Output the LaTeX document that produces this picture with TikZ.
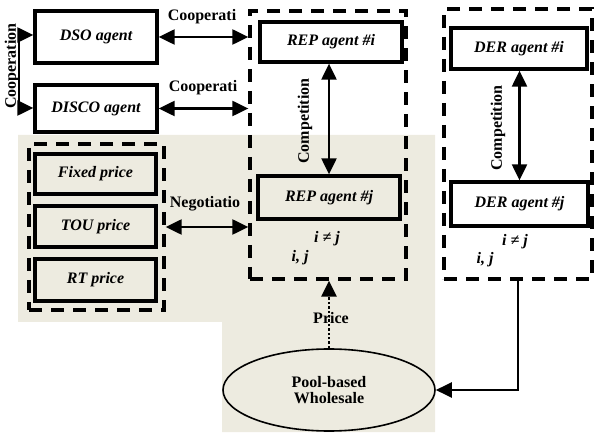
\documentclass[tikz,border=0pt]{standalone}
\usepackage{fontspec}
\setmainfont{Liberation Serif}
\usetikzlibrary{arrows.meta,shapes.geometric}
\definecolor{beige}{RGB}{237,235,224}
\begin{document}
\begin{tikzpicture}[x=1pt,y=-1pt,
  agent/.style={draw, line width=3.3pt, inner sep=0pt,
    font=\fontsize{16}{17}\selectfont\bfseries\itshape},
  cont/.style={draw, line width=3.3pt, dash pattern=on 13pt off 9pt, inner sep=0pt},
  lab/.style={font=\fontsize{16}{17}\selectfont\bfseries, inner sep=0pt},
  ilab/.style={font=\fontsize{16}{17}\selectfont\bfseries\itshape, inner sep=0pt},
  conn/.style={line width=2.2pt, {Triangle[length=16pt,width=15pt]}-{Triangle[length=16pt,width=15pt]}},
  oneway/.style={line width=2.2pt, -{Triangle[length=16pt,width=15pt]}}
]
\useasboundingbox (0,0) rectangle (594,435);
% background
\fill[beige] (18,135) -- (435,135) -- (435,432) -- (222,432) -- (222,322) -- (18,322) -- cycle;

% containers
\node[cont, minimum width=156pt, minimum height=268pt] (repc) at (328,145) {};
\node[cont, minimum width=148pt, minimum height=270pt] (derc) at (518,144) {};
\node[cont, minimum width=135pt, minimum height=166pt] (pc) at (96.5,227) {};

% agent boxes
\node[agent, minimum width=122pt, minimum height=52pt] (dso) at (96,37) {DSO agent};
\node[agent, minimum width=122pt, minimum height=47pt] (disco) at (96,108.5) {DISCO agent};
\node[agent, minimum width=142pt, minimum height=40pt] (repi) at (331,42) {REP agent \#i};
\node[agent, minimum width=142pt, minimum height=43pt] (repj) at (329,197.5) {REP agent \#j};
\node[agent, minimum width=136pt, minimum height=41pt] (deri) at (519,48.5) {DER agent \#i};
\node[agent, minimum width=137pt, minimum height=44pt] (derj) at (519.5,204) {DER agent \#j};
\node[agent, minimum width=121pt, minimum height=40pt] (fixed) at (95.5,174) {Fixed price};
\node[agent, minimum width=121pt, minimum height=41pt] (tou) at (95.5,226.5) {TOU price};
\node[agent, minimum width=121pt, minimum height=42pt] (rt) at (95.5,280) {RT price};

% ellipse
\node[ellipse, draw, line width=1.6pt, minimum width=212pt, minimum height=82pt, inner sep=0pt,
  align=center, font=\fontsize{16}{16}\selectfont\bfseries] (pool) at (329,390) {Pool-based\\Wholesale};

% connectors
\draw[conn] (dso.east) -- (dso.east -| repc.west);
\draw[conn] (disco.east) -- (disco.east -| repc.west);
\draw[conn] (pc.east) -- (pc.east -| repc.west);
\draw[conn] (repj.north) -- (repj.north |- repi.south);
\draw[conn] (derj.north) -- (derj.north |- deri.south);
\coordinate (cl1) at (19,35);
\coordinate (cl2) at (19,108);
\draw[conn] (dso.west |- cl1) -- (cl1) -- (cl2) -- (disco.west |- cl2);
\draw[line width=2.4pt, dotted, -{Triangle[length=16pt,width=15pt]}] (pool.north) -- (pool.north |- repc.south);
\draw[oneway] (derc.south) |- (pool.east);

% labels
\node[lab, rotate=90] (lcoop) at (12,66) {Cooperation};
\node[lab] (lc1) at (202,17) {Cooperati};
\node[lab] (lc2) at (203,88) {Cooperati};
\node[lab] (lneg) at (205,204) {Negotiatio};
\node[lab, rotate=90] (lcomp1) at (305,121) {Competition};
\node[lab, rotate=90] (lcomp2) at (498,128) {Competition};
\node[lab] (lprice) at (331,318) {Price};
\node[ilab] (ne1) at (327,239) {i ≠ j};
\node[ilab] (ij1) at (300,258) {i, j};
\node[ilab] (ne2) at (515,242) {i ≠ j};
\node[ilab] (ij2) at (485,260) {i, j};
\end{tikzpicture}
\end{document}
